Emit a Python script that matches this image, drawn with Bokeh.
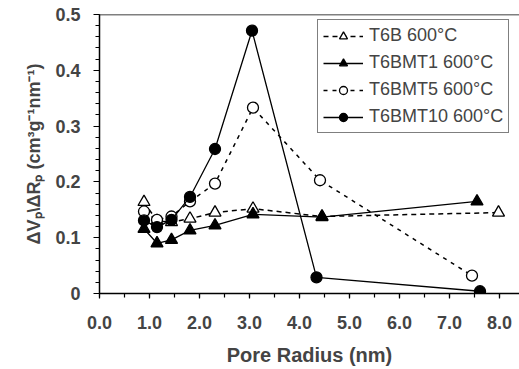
from bokeh.plotting import figure
from bokeh.models import FixedTicker, PrintfTickFormatter, Span, Legend, LegendItem
from bokeh.embed import file_html
from bokeh.resources import INLINE

# Data
t6b_x = [0.89, 1.15, 1.44, 1.81, 2.31, 3.07, 4.45, 7.98]
t6b_y = [0.164, 0.130, 0.128, 0.134, 0.145, 0.152, 0.138, 0.145]

t6bmt1_x = [0.89, 1.15, 1.44, 1.81, 2.31, 3.07, 4.45, 7.55]
t6bmt1_y = [0.116, 0.090, 0.096, 0.113, 0.122, 0.142, 0.137, 0.165]

t6bmt5_x = [0.89, 1.15, 1.44, 1.81, 2.31, 3.07, 4.41, 7.45]
t6bmt5_y = [0.147, 0.132, 0.138, 0.165, 0.197, 0.333, 0.203, 0.032]

t6bmt10_x = [0.89, 1.15, 1.44, 1.81, 2.31, 3.05, 4.34, 7.61]
t6bmt10_y = [0.131, 0.119, 0.132, 0.173, 0.259, 0.471, 0.029, 0.004]

labels = ["T6B 600°C", "T6BMT1 600°C", "T6BMT5 600°C", "T6BMT10 600°C"]
x_ticks = [0, 1, 2, 3, 4, 5, 6, 7, 8]
y_ticks = [0, 0.1, 0.2, 0.3, 0.4, 0.5]

p = figure(width=519, height=369, x_range=(0, 8.4), y_range=(0, 0.5),
           output_backend="svg", toolbar_location=None,
           min_border_left=99, min_border_right=0, min_border_top=14,
           min_border_bottom=76)
p.grid.visible = False
p.outline_line_color = None
p.background_fill_color = "white"
p.border_fill_color = "white"

FONT = "Liberation Sans"

# x axis
xa = p.xaxis[0]
xa.ticker = FixedTicker(ticks=x_ticks, minor_ticks=[i * 0.5 for i in range(17)])
xa.formatter = PrintfTickFormatter(format="%.1f")
xa.axis_label = "Pore Radius (nm)"
xa.axis_label_text_font = FONT
xa.axis_label_text_font_style = "bold"
xa.axis_label_text_font_size = "20px"
xa.axis_label_standoff = 12
xa.major_label_text_font = FONT
xa.major_label_text_font_style = "bold"
xa.major_label_text_font_size = "18px"
xa.major_label_standoff = 17
xa.major_tick_in = 0
xa.major_tick_out = 5
xa.minor_tick_in = 0
xa.minor_tick_out = 4
xa.axis_line_width = 1.5
xa.major_tick_line_width = 1.2
xa.minor_tick_line_width = 1.2
xa.axis_line_color = "black"

# y axis
ya = p.yaxis[0]
ya.ticker = FixedTicker(ticks=y_ticks, minor_ticks=[round(i * 0.02, 2) for i in range(26)])
ya.formatter = PrintfTickFormatter(format="%.1f")
ya.major_label_overrides = {0: "0"}
ya.axis_label = "ΔVₚ\\ΔRₚ (cm³g⁻¹nm⁻¹)"
ya.axis_label_text_font = FONT
ya.axis_label_text_font_style = "bold"
ya.axis_label_text_font_size = "18px"
ya.axis_label_standoff = 8
ya.major_label_text_font = FONT
ya.major_label_text_font_style = "bold"
ya.major_label_text_font_size = "18px"
ya.major_label_standoff = 13
ya.major_tick_in = 0
ya.major_tick_out = 6
ya.minor_tick_in = 0
ya.minor_tick_out = 4
ya.axis_line_width = 1.5
ya.major_tick_line_width = 1.2
ya.minor_tick_line_width = 1.2

# top frame line
p.add_layout(Span(location=0.5, dimension="width", line_color="black", line_width=1.5))

MS = 12
r1l = p.line(t6b_x, t6b_y, line_color="black", line_width=1.5, line_dash="5 4")
r1m = p.scatter(t6b_x, t6b_y, marker="triangle", size=MS, fill_color="white",
                line_color="black", line_width=1.3)
r2l = p.line(t6bmt1_x, t6bmt1_y, line_color="black", line_width=1.3)
r2m = p.scatter(t6bmt1_x, t6bmt1_y, marker="triangle", size=MS, fill_color="black",
                line_color="black", line_width=1.3)
r3l = p.line(t6bmt5_x, t6bmt5_y, line_color="black", line_width=1.5, line_dash="4 5")
r3m = p.scatter(t6bmt5_x, t6bmt5_y, marker="circle", size=MS - 1, fill_color="white",
                line_color="black", line_width=1.3)
r4l = p.line(t6bmt10_x, t6bmt10_y, line_color="black", line_width=1.3)
r4m = p.scatter(t6bmt10_x, t6bmt10_y, marker="circle", size=MS - 1, fill_color="black",
                line_color="black", line_width=1.3)

legend = Legend(items=[
    LegendItem(label=labels[0], renderers=[r1l, r1m]),
    LegendItem(label=labels[1], renderers=[r2l, r2m]),
    LegendItem(label=labels[2], renderers=[r3l, r3m]),
    LegendItem(label=labels[3], renderers=[r4l, r4m]),
], location=(218, 160))
legend.label_text_font = FONT
legend.label_text_font_size = "18px"
legend.label_height = 20
legend.glyph_height = 20
legend.glyph_width = 40
legend.label_standoff = 6
legend.spacing = 6
legend.padding = 5
legend.margin = 0
legend.border_line_color = "black"
legend.border_line_width = 1
legend.background_fill_color = "white"
legend.background_fill_alpha = 1
p.add_layout(legend)

open("out.html", "w").write(file_html(p, INLINE))
